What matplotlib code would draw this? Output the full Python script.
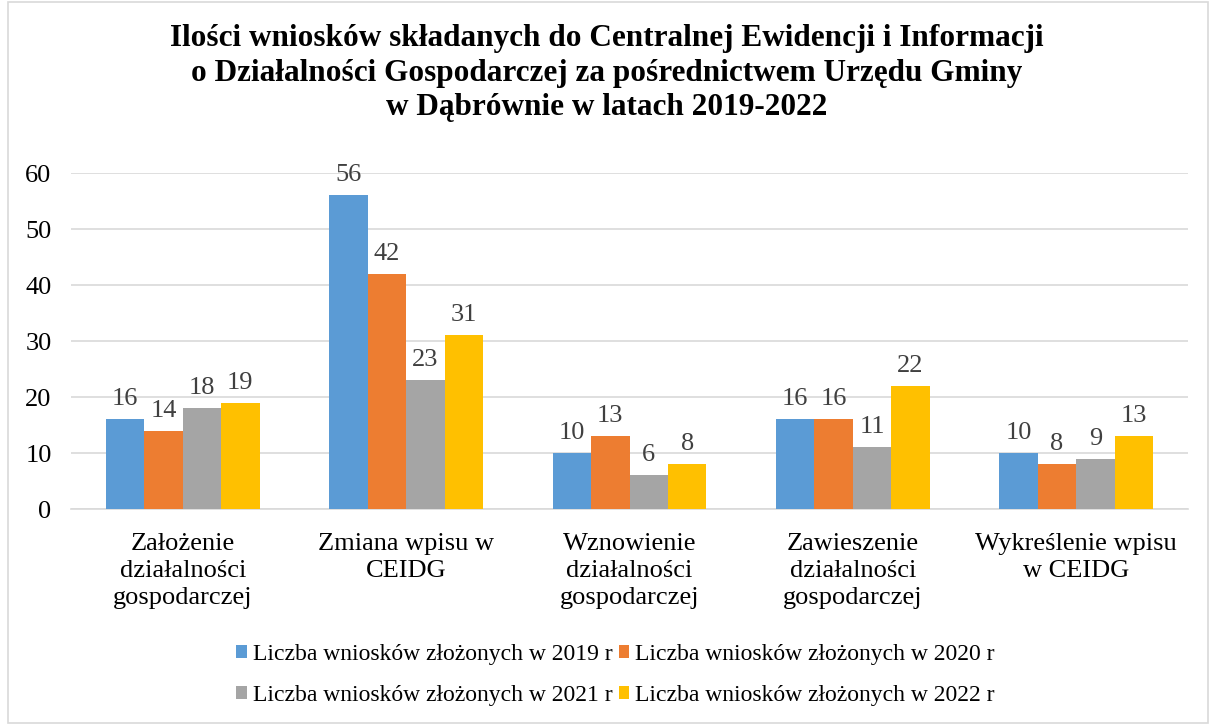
import matplotlib
matplotlib.use("Agg")
import matplotlib.pyplot as plt
import numpy as np
from matplotlib.patches import Rectangle

categories = ["Założenie\ndziałalności\ngospodarczej", "Zmiana wpisu w\nCEIDG",
              "Wznowienie\ndziałalności\ngospodarczej", "Zawieszenie\ndziałalności\ngospodarczej",
              "Wykreślenie wpisu\nw CEIDG"]
series_names = ["Liczba wniosków złożonych w 2019 r", "Liczba wniosków złożonych w 2020 r",
                "Liczba wniosków złożonych w 2021 r", "Liczba wniosków złożonych w 2022 r"]
v2019 = [16, 56, 10, 16, 10]
v2020 = [14, 42, 13, 16, 8]
v2021 = [18, 23, 6, 11, 9]
v2022 = [19, 31, 8, 22, 13]
series = [v2019, v2020, v2021, v2022]
colors = ["#5B9BD5", "#ED7D31", "#A5A5A5", "#FFC000"]
yticks = [0, 10, 20, 30, 40, 50, 60]
title = ("Ilości wniosków składanych do Centralnej Ewidencji i Informacji\n"
         "o Działalności Gospodarczej za pośrednictwem Urzędu Gminy\n"
         "w Dąbrównie w latach 2019-2022")

plt.rcParams['font.family'] = ['Liberation Serif', 'DejaVu Serif']

fig = plt.figure(figsize=(12.14, 7.25), dpi=100)
fig.patches.append(Rectangle((0.007, 0.003), 0.988, 0.994, transform=fig.transFigure,
                             fill=False, edgecolor="#D9D9D9", linewidth=1.2))
ax = fig.add_axes([71/1214, 1 - 509/725, 1117/1214, 336/725])

x = np.arange(len(categories))
w = 0.172
handles = []
for i, (vals, c, name) in enumerate(zip(series, colors, series_names)):
    pos = x + (i - 1.5) * w
    bars = ax.bar(pos, vals, width=w, color=c, label=name, zorder=3)
    handles.append(bars)
    for b, v in zip(bars, vals):
        ax.text(b.get_x() + b.get_width() / 2, v + 1.6, str(v), ha="center", va="bottom",
                fontsize=19, color="#404040")

ax.set_xlim(-0.5, len(categories) - 0.5)
ax.set_ylim(0, 60)
ax.set_yticks(yticks)
ax.yaxis.grid(True, color="#D9D9D9", linewidth=1.2, zorder=0)
ax.set_axisbelow(True)
for s in ["top", "right", "left"]:
    ax.spines[s].set_visible(False)
ax.spines["bottom"].set_color("#D9D9D9")
ax.spines["bottom"].set_linewidth(1.2)
ax.tick_params(axis="both", length=0, labelsize=19, colors="#000000")
ax.tick_params(axis="y", pad=14)
ax.tick_params(axis="x", pad=17)
ax.set_xticks(x)
ax.set_xticklabels(categories, fontsize=19, linespacing=1.32)

fig.text(0.5, 1 - 24/725, title, ha="center", va="top", fontsize=22.5,
         fontweight="bold", linespacing=1.25)

order = [0, 2, 1, 3]
fig.legend([handles[k] for k in order], [series_names[k] for k in order],
           loc="center", bbox_to_anchor=(0.507, 1 - 675/725), ncol=2, frameon=False,
           fontsize=17, handlelength=0.45, handleheight=0.45, handletextpad=0.25,
           columnspacing=0.25, labelspacing=0.85)

fig.savefig("out.png", dpi=100)
